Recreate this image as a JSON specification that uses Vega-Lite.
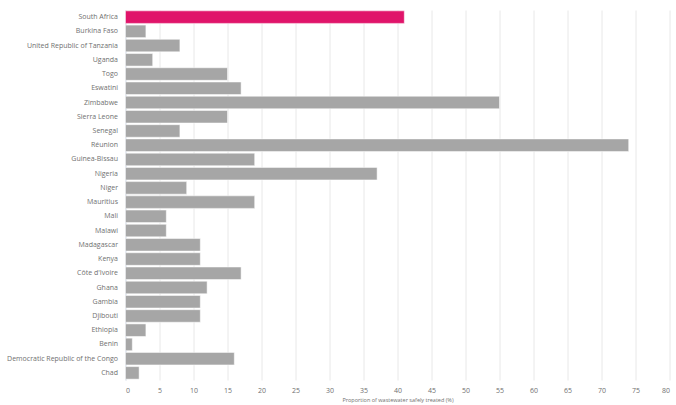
{
  "$schema": "https://vega.github.io/schema/vega-lite/v6.json",
  "width": 544,
  "height": 370,
  "autosize": {"type": "none"},
  "padding": {"left": 125.5, "top": 10, "right": 6, "bottom": 25},
  "background": "white",
  "config": {"view": {"stroke": null}, "font": "Open Sans"},
  "data": {"values": [
    {"country": "South Africa", "value": 41, "hl": "yes"},
    {"country": "Burkina Faso", "value": 3, "hl": "no"},
    {"country": "United Republic of Tanzania", "value": 8, "hl": "no"},
    {"country": "Uganda", "value": 4, "hl": "no"},
    {"country": "Togo", "value": 15, "hl": "no"},
    {"country": "Eswatini", "value": 17, "hl": "no"},
    {"country": "Zimbabwe", "value": 55, "hl": "no"},
    {"country": "Sierra Leone", "value": 15, "hl": "no"},
    {"country": "Senegal", "value": 8, "hl": "no"},
    {"country": "Réunion", "value": 74, "hl": "no"},
    {"country": "Guinea-Bissau", "value": 19, "hl": "no"},
    {"country": "Nigeria", "value": 37, "hl": "no"},
    {"country": "Niger", "value": 9, "hl": "no"},
    {"country": "Mauritius", "value": 19, "hl": "no"},
    {"country": "Mali", "value": 6, "hl": "no"},
    {"country": "Malawi", "value": 6, "hl": "no"},
    {"country": "Madagascar", "value": 11, "hl": "no"},
    {"country": "Kenya", "value": 11, "hl": "no"},
    {"country": "Côte d'Ivoire", "value": 17, "hl": "no"},
    {"country": "Ghana", "value": 12, "hl": "no"},
    {"country": "Gambia", "value": 11, "hl": "no"},
    {"country": "Djibouti", "value": 11, "hl": "no"},
    {"country": "Ethiopia", "value": 3, "hl": "no"},
    {"country": "Benin", "value": 1, "hl": "no"},
    {"country": "Democratic Republic of the Congo", "value": 16, "hl": "no"},
    {"country": "Chad", "value": 2, "hl": "no"}
  ]},
  "mark": {"type": "bar", "stroke": "white", "strokeWidth": 0.5},
  "encoding": {
    "y": {
      "field": "country", "type": "nominal", "sort": null,
      "scale": {"paddingInner": 0.12, "paddingOuter": 0.06},
      "axis": {"title": null, "ticks": false, "domain": true, "domainColor": "#D6E0F0", "labelFontSize": 7, "labelColor": "#707070", "labelPadding": 8}
    },
    "x": {
      "field": "value", "type": "quantitative",
      "scale": {"domain": [0, 80], "nice": false},
      "axis": {"values": [0,5,10,15,20,25,30,35,40,45,50,55,60,65,70,75,80], "title": "Proportion of wastewater safely treated (%)", "titleFontSize": 5.5, "titleFontWeight": "normal", "titleColor": "#707070", "titlePadding": 4, "labelFontSize": 7, "labelColor": "#707070", "labelPadding": 6, "ticks": false, "domain": false, "grid": true, "gridColor": "#E8E8E8", "gridWidth": 1}
    },
    "color": {
      "field": "hl", "type": "nominal",
      "scale": {"domain": ["yes", "no"], "range": ["#E0146A", "#A6A6A6"]},
      "legend": null
    }
  }
}
